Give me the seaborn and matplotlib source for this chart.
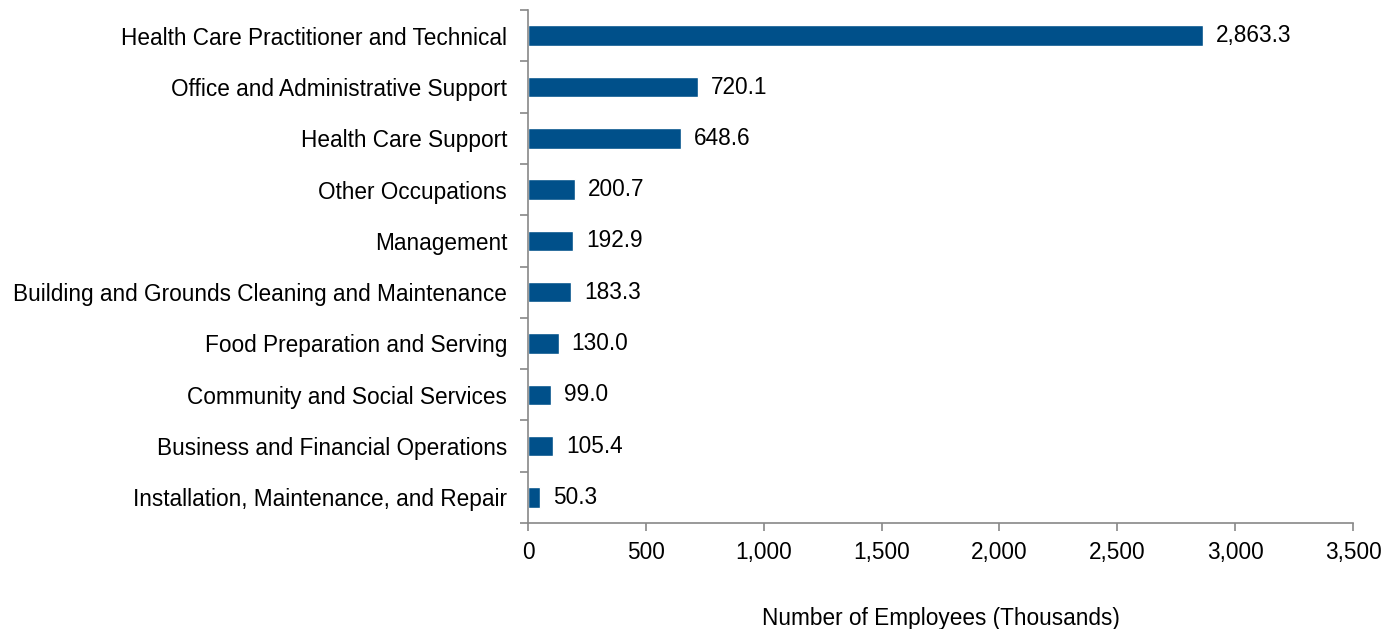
import numpy as np
import pandas as pd
import matplotlib
matplotlib.use('Agg')
import matplotlib.pyplot as plt
import seaborn as sns
from matplotlib.ticker import FuncFormatter, FixedLocator

occupations = [
    'Health Care Practitioner and Technical',
    'Office and Administrative Support',
    'Health Care Support',
    'Other Occupations',
    'Management',
    'Building and Grounds Cleaning and Maintenance',
    'Food Preparation and Serving',
    'Community and Social Services',
    'Business and Financial Operations',
    'Installation, Maintenance, and Repair',
]
employees = [2863.3, 720.1, 648.6, 200.7, 192.9, 183.3, 130.0, 99.0, 105.4, 50.3]

df = pd.DataFrame({'Occupation': occupations, 'Employees': employees})

sns.set_style('white')
plt.rcParams['font.family'] = ['Liberation Sans', 'DejaVu Sans']
plt.rcParams['text.color'] = 'black'
plt.rcParams['xtick.color'] = 'black'
plt.rcParams['ytick.color'] = 'black'
plt.rcParams['axes.labelcolor'] = 'black'

fs = 16.3

fig = plt.figure(figsize=(13.87, 6.29), dpi=100)
ax = fig.add_axes([0.3807, 0.1685, 0.5948, 0.8155])

sns.barplot(data=df, y='Occupation', x='Employees', color='#00508A',
            width=0.4, saturation=1, ax=ax)

# value labels
for i, v in enumerate(employees):
    ax.text(v + 55, i, f'{v:,.1f}', va='center', ha='left', fontsize=fs)

ax.set_xlim(0, 3500)
ax.set_ylim(len(occupations) - 0.5, -0.5)
ax.set_xticks(np.arange(0, 3501, 500))
ax.xaxis.set_major_formatter(FuncFormatter(lambda x, p: f'{int(x):,}'))

# y ticks between categories
ax.yaxis.set_minor_locator(FixedLocator(np.arange(-0.5, len(occupations), 1)))
ax.tick_params(axis='y', which='major', length=0, labelsize=fs, pad=15)
ax.tick_params(axis='y', which='minor', length=6, width=1.2, color='#888888', left=True)
ax.tick_params(axis='x', which='major', length=6, width=1.2, color='#888888',
               bottom=True, labelsize=fs, pad=7, labelcolor='black')

for s in ['top', 'right']:
    ax.spines[s].set_visible(False)
for s in ['left', 'bottom']:
    ax.spines[s].set_color('#888888')
    ax.spines[s].set_linewidth(1.2)

ax.set_ylabel('')
ax.set_xlabel('Number of Employees (Thousands)', fontsize=fs, labelpad=31)

plt.savefig('out.png', dpi=100)
